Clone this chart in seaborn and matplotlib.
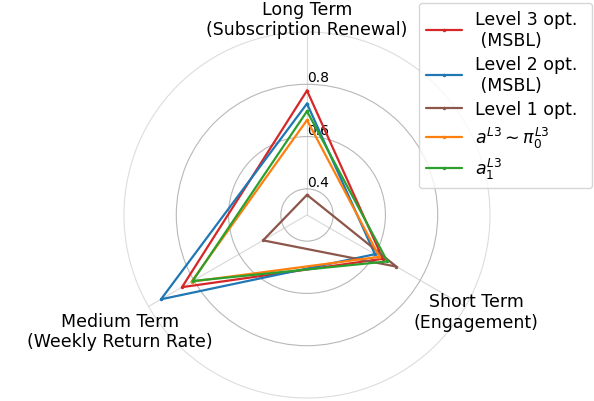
import numpy as np
import pandas as pd
import matplotlib
matplotlib.use("Agg")
import matplotlib.pyplot as plt
import seaborn as sns

categories = ["Long Term\n(Subscription Renewal)",
              "Medium Term\n(Weekly Return Rate)",
              "Short Term\n(Engagement)"]
series = ["Level 3 opt.\n (MSBL)", "Level 2 opt.\n (MSBL)", "Level 1 opt.",
          r"$a^{L3} \sim \pi_0^{L3}$", r"$a_1^{L3}$"]
level3 = [0.776, 0.852, 0.635]
level2 = [0.726, 0.945, 0.600]
level1 = [0.377, 0.494, 0.695]
a_pi0 = [0.663, 0.810, 0.620]
a_1 = [0.697, 0.805, 0.655]
colors = ["tab:red", "tab:blue", "tab:brown", "tab:orange", "tab:green"]
rticks = [0.4, 0.6, 0.8]

sns.set_style("white")
plt.rcParams["font.family"] = ["DejaVu Sans"]
plt.rcParams["text.color"] = "black"
plt.rcParams["xtick.color"] = "black"
plt.rcParams["ytick.color"] = "black"
plt.rcParams["axes.labelcolor"] = "black"

values = [level3, level2, level1, a_pi0, a_1]
angles = np.linspace(0, 2 * np.pi, len(categories), endpoint=False)
rows = []
for name, vals in zip(series, values):
    for k in range(len(categories) + 1):
        i = k % len(categories)
        rows.append({"series": name, "theta": angles[i] if k < len(categories) else 2 * np.pi,
                     "value": vals[i]})
df = pd.DataFrame(rows)

fig = plt.figure(figsize=(5.94, 4.02), dpi=100)
ax = fig.add_axes([124 / 594, 3 / 402, 366 / 594, 366 / 402], projection="polar")
ax.set_theta_offset(np.pi / 2)
ax.set_ylim(0.3, 1.0)

sns.lineplot(data=df, x="theta", y="value", hue="series", hue_order=series,
             palette=colors, sort=False, estimator=None, marker="o",
             markersize=2.5, markeredgewidth=0, linewidth=1.6, ax=ax)

# category labels placed around the frame
ax.set_xticks(angles)
ax.set_xticklabels([])
label_pos = [(0.0, 1.05), (np.deg2rad(121.8), 1.142), (np.deg2rad(240.3), 1.045)]
for (th, r), txt in zip(label_pos, categories):
    ax.text(th, r, txt, ha="center", va="center", fontsize=12.5, color="black",
            clip_on=False)

ax.set_yticks(rticks)
ax.set_yticklabels([f"{t:.1f}" for t in rticks], fontsize=10, color="black")
ax.set_rlabel_position(0)
ax.set_xlabel("")
ax.set_ylabel("")
ax.yaxis.grid(True, color="#b8b8b8", linewidth=0.8)
ax.xaxis.grid(True, color="#d8d8d8", linewidth=0.8)
ax.spines["polar"].set_color("#dddddd")
ax.spines["polar"].set_linewidth(0.8)

handles, labels = ax.get_legend_handles_labels()
ax.get_legend().remove()
leg = fig.legend(handles, labels, loc="upper left",
                 bbox_to_anchor=(419 / 594, 1 - 188 / 402, 173 / 594, 184 / 402),
                 mode="expand", fontsize=12.5, borderaxespad=0, frameon=True,
                 framealpha=0.8, edgecolor="#cccccc", handlelength=2.1,
                 handletextpad=0.75, labelspacing=0.37)
for t in leg.get_texts():
    t.set_color("black")

fig.savefig("out.png", dpi=100)
